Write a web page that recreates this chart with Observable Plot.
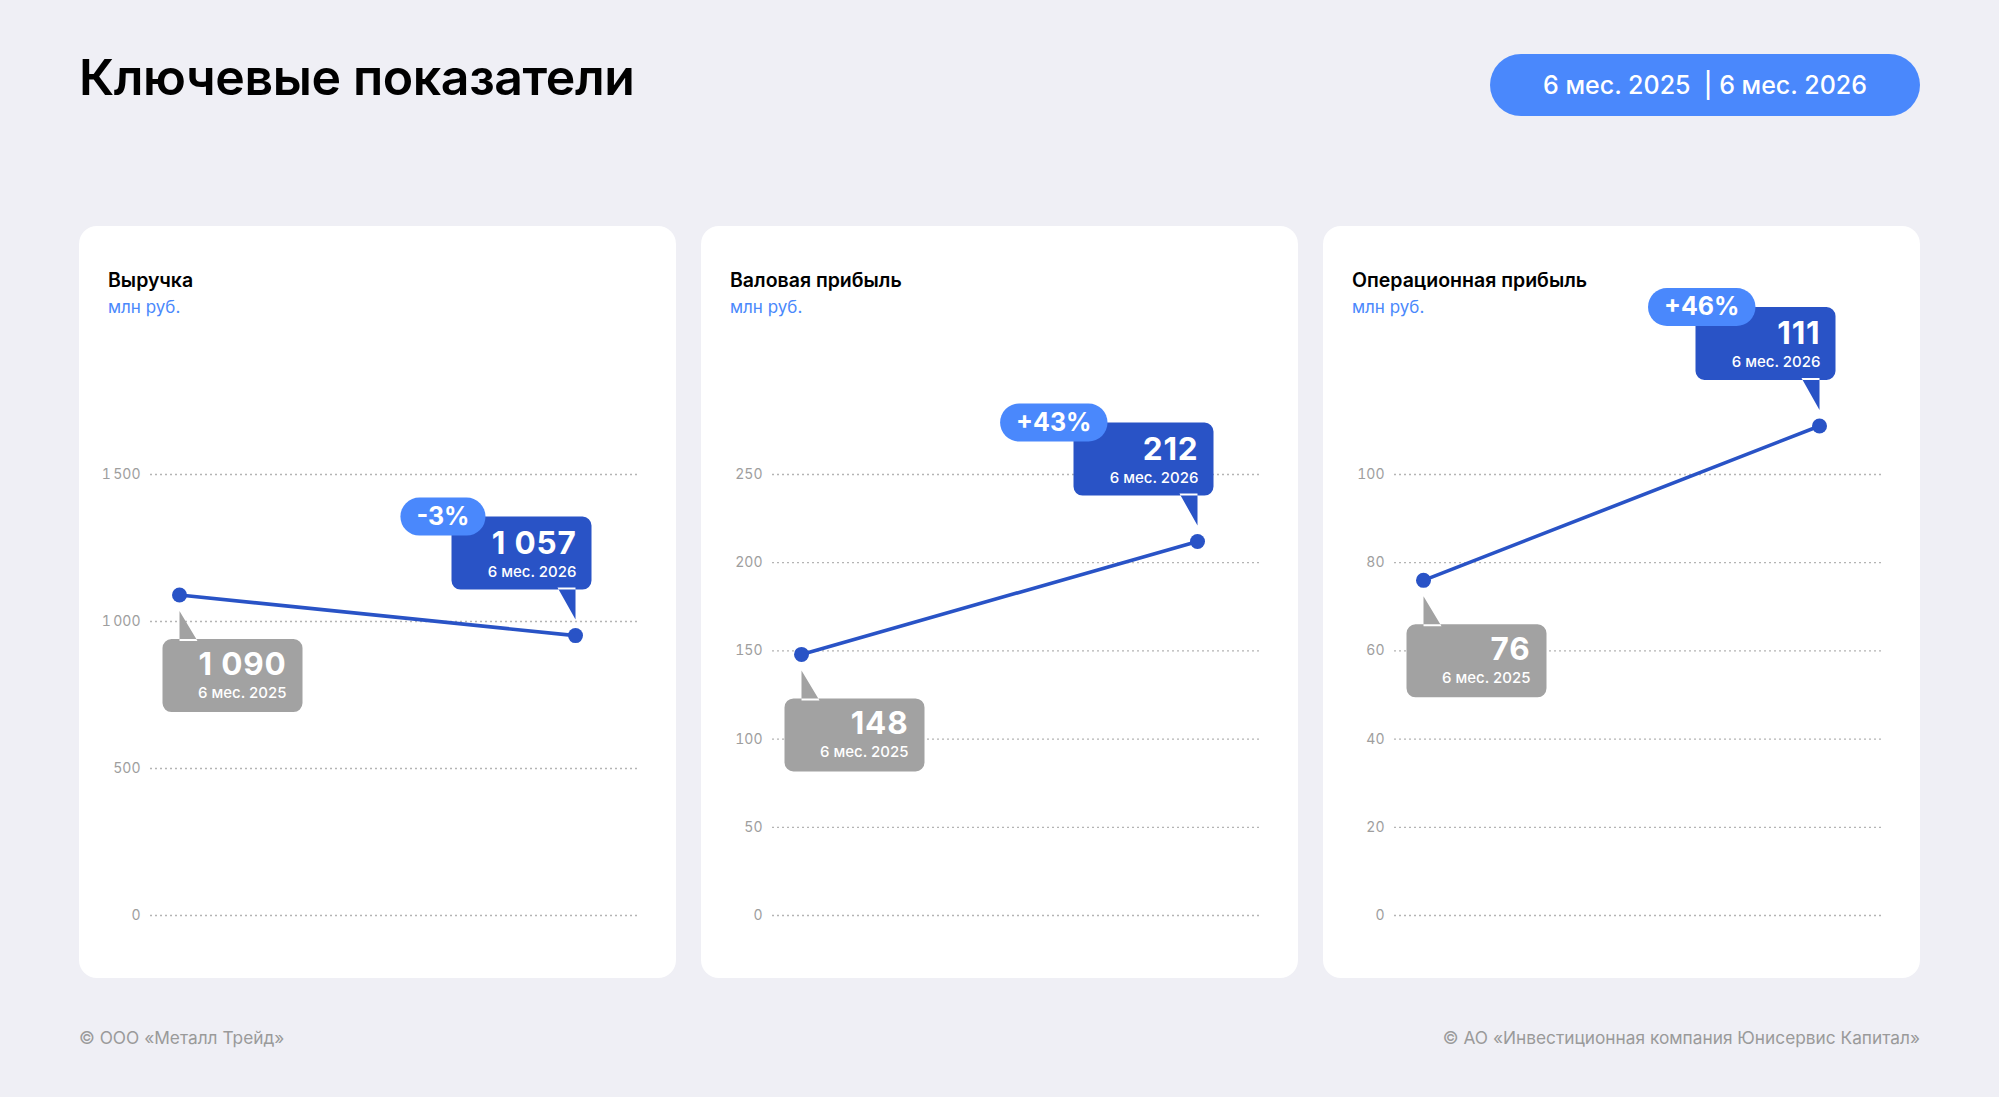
<!DOCTYPE html>
<html>
<head>
<meta charset="utf-8">
<script src="https://cdn.jsdelivr.net/npm/d3@7"></script>
<script src="https://cdn.jsdelivr.net/npm/@observablehq/plot@0.6"></script>
<style>
  html, body { margin: 0; padding: 0; }
  body { width: 1999px; height: 1097px; background: #efeff5; position: relative; overflow: hidden; font-family: Inter, "Noto Sans", sans-serif; }
  .title { position: absolute; left: 79px; top: 52px; font-size: 50px; line-height: 50px; font-weight: 600; color: #000; letter-spacing: -0.4px; }
  .period-pill { position: absolute; left: 1490px; top: 54px; width: 430px; height: 62px; border-radius: 31px; background: #4a88fc; color: #fff; display: flex; align-items: center; justify-content: center; font-size: 25px; font-weight: 500; white-space: pre; }
  .panel { position: absolute; top: 226px; width: 597px; height: 752px; background: #fff; border-radius: 18px; }
  .panel svg { position: absolute; left: 0; top: 0; overflow: visible; }
  .ptitle { position: absolute; left: 29px; top: 44px; font-size: 19.5px; line-height: 20px; font-weight: 600; color: #000; z-index: 2; }
  .punit { position: absolute; left: 29px; top: 73px; font-size: 17px; line-height: 17px; font-weight: 400; color: #4a88fc; z-index: 2; }
  .foot { position: absolute; top: 1029px; font-size: 17.3px; line-height: 17px; color: #9a9a9a; }
  .panel svg text.wide { letter-spacing: 0.8px; }
</style>
</head>
<body>
<script>
// ---- data ----
const periods = ["6 мес. 2025", "6 мес. 2026"];
const panelTitles = ["Выручка", "Валовая прибыль", "Операционная прибыль"];
const unitLabel = "млн руб.";
const revenueValues = [1090, 952];
const revenueLabels = ["1 090", "1 057"];
const grossValues = [148, 212];
const grossLabels = ["148", "212"];
const operatingValues = [76, 111];
const operatingLabels = ["76", "111"];
const changeLabels = ["-3%", "+43%", "+46%"];
const revenueTicks = [0, 500, 1000, 1500];
const grossTicks = [0, 50, 100, 150, 200, 250];
const operatingTicks = [0, 20, 40, 60, 80, 100];
const mainTitle = "Ключевые показатели";
const footLeft = "© ООО «Металл Трейд»";
const footRight = "© АО «Инвестиционная компания Юнисервис Капитал»";

// ---- styles ----
const BLUE = "#2953c6", GRAY = "#a2a2a2", LIGHT = "#4a88fc";
const FONT = "Inter, 'Noto Sans', sans-serif";
const locale = d3.formatLocale({decimal: ",", thousands: "\u2009", grouping: [3], currency: ["", ""]});
const tickFmt = locale.format(",");

function rr(ctx, x0, y0, x1, y1, r) {
  ctx.moveTo(x0 + r, y0);
  ctx.lineTo(x1 - r, y0);
  ctx.arcTo(x1, y0, x1, y0 + r, r);
  ctx.lineTo(x1, y1 - r);
  ctx.arcTo(x1, y1, x1 - r, y1, r);
  ctx.lineTo(x0 + r, y1);
  ctx.arcTo(x0, y1, x0, y1 - r, r);
  ctx.lineTo(x0, y0 + r);
  ctx.arcTo(x0, y0, x0 + r, y0, r);
  ctx.closePath();
}
const grayCallout = {draw(ctx) {
  rr(ctx, -17, 44, 123, 117, 9);
  ctx.moveTo(0, 16); ctx.lineTo(0, 46); ctx.lineTo(18, 46); ctx.closePath();
}};
const blueCallout = {draw(ctx) {
  rr(ctx, -124, -119, 16, -46, 9);
  ctx.moveTo(0, -16); ctx.lineTo(0, -48); ctx.lineTo(-18, -48); ctx.closePath();
}};
function pillSymbol(x0, x1) {
  return {draw(ctx) { rr(ctx, x0, -138, x1, -100, 19); }};
}
const measureCtx = document.createElement("canvas").getContext("2d");
function textWidth(t, font) { measureCtx.font = font; return measureCtx.measureText(t).width; }

// ---- page ----
const t = document.createElement("div"); t.className = "title"; t.textContent = mainTitle; document.body.appendChild(t);
const pp = document.createElement("div"); pp.className = "period-pill"; pp.textContent = periods[0] + "  | " + periods[1]; document.body.appendChild(pp);
const fl = document.createElement("div"); fl.className = "foot"; fl.style.left = "79px"; fl.textContent = footLeft; document.body.appendChild(fl);
const fr = document.createElement("div"); fr.className = "foot"; fr.style.right = "79px"; fr.textContent = footRight; document.body.appendChild(fr);

const panels = [
  {title: panelTitles[0], values: revenueValues, labels: revenueLabels, change: changeLabels[0], ticks: revenueTicks, left: 79, pillShift: 0},
  {title: panelTitles[1], values: grossValues, labels: grossLabels, change: changeLabels[1], ticks: grossTicks, left: 701, pillShift: 0},
  {title: panelTitles[2], values: operatingValues, labels: operatingLabels, change: changeLabels[2], ticks: operatingTicks, left: 1323, pillShift: 26}
];

for (const p of panels) {
  const div = document.createElement("div");
  div.className = "panel";
  div.style.left = p.left + "px";
  const h = document.createElement("div"); h.className = "ptitle"; h.textContent = p.title; div.appendChild(h);
  const u = document.createElement("div"); u.className = "punit"; u.textContent = unitLabel; div.appendChild(u);

  const data = periods.map((period, i) => ({period, value: p.values[i], label: p.labels[i]}));
  const first = [data[0]], last = [data[1]];
  const pillFont = `700 25px ${FONT}`;
  const pillW = textWidth(p.change, pillFont) + 32;
  const pillRight = -90 + p.pillShift;
  const pillLeft = pillRight - pillW;
  const pillCx = (pillLeft + pillRight) / 2;
  const top = p.ticks[p.ticks.length - 1];

  const chart = Plot.plot({
    width: 597,
    height: 752,
    marginLeft: 71,
    marginRight: 39,
    marginTop: 0,
    marginBottom: 0,
    style: {background: "transparent", fontFamily: FONT, overflow: "visible"},
    x: {type: "point", domain: periods, range: [100, 496], padding: 0, axis: null},
    y: {domain: [0, top], range: [689, 248], axis: null},
    marks: [
      Plot.gridY(p.ticks, {stroke: "#b4b4b4", strokeOpacity: 1, strokeWidth: 1.3, strokeDasharray: "2,3"}),
      Plot.axisY(p.ticks, {tickSize: 0, tickPadding: 10, tickFormat: tickFmt, fontSize: 14, fill: "#9e9e9e", label: null}),
      Plot.dot(first, {x: "period", y: "value", r: 1, symbol: grayCallout, fill: GRAY, stroke: null}),
      Plot.dot(last, {x: "period", y: "value", r: 1, symbol: blueCallout, fill: BLUE, stroke: null}),
      Plot.line(data, {x: "period", y: "value", stroke: BLUE, strokeWidth: 3.6}),
      Plot.dot(data, {x: "period", y: "value", r: 7.5, fill: BLUE, stroke: null}),
      Plot.text(first, {x: "period", y: "value", text: "label", textAnchor: "end", lineAnchor: "bottom", dx: 107, dy: 80, fill: "#fff", fontSize: 31.5, fontWeight: 700}),
      Plot.text(first, {x: "period", y: "value", text: "period", textAnchor: "end", lineAnchor: "bottom", dx: 107, dy: 103, fill: "#fff", fontSize: 15, fontWeight: 500}),
      Plot.text(last, {x: "period", y: "value", text: "label", textAnchor: "end", lineAnchor: "bottom", dx: 1, dy: -82, fill: "#fff", fontSize: 31.5, fontWeight: 700}),
      Plot.text(last, {x: "period", y: "value", text: "period", textAnchor: "end", lineAnchor: "bottom", dx: 1, dy: -59, fill: "#fff", fontSize: 15, fontWeight: 500}),
      Plot.dot(last, {x: "period", y: "value", r: 1, symbol: pillSymbol(pillLeft, pillRight), fill: LIGHT, stroke: null}),
      Plot.text(last, {x: "period", y: "value", text: () => p.change, textAnchor: "middle", lineAnchor: "middle", dx: pillCx, dy: -119, fill: "#fff", fontSize: 25, fontWeight: 700})
    ]
  });
  // widen the big value numbers slightly (letter-spacing) to match the reference typeface
  chart.querySelectorAll("g[font-size='31.5'] text").forEach(el => el.classList.add("wide"));
  div.appendChild(chart);
  document.body.appendChild(div);
}
</script>
</body>
</html>
